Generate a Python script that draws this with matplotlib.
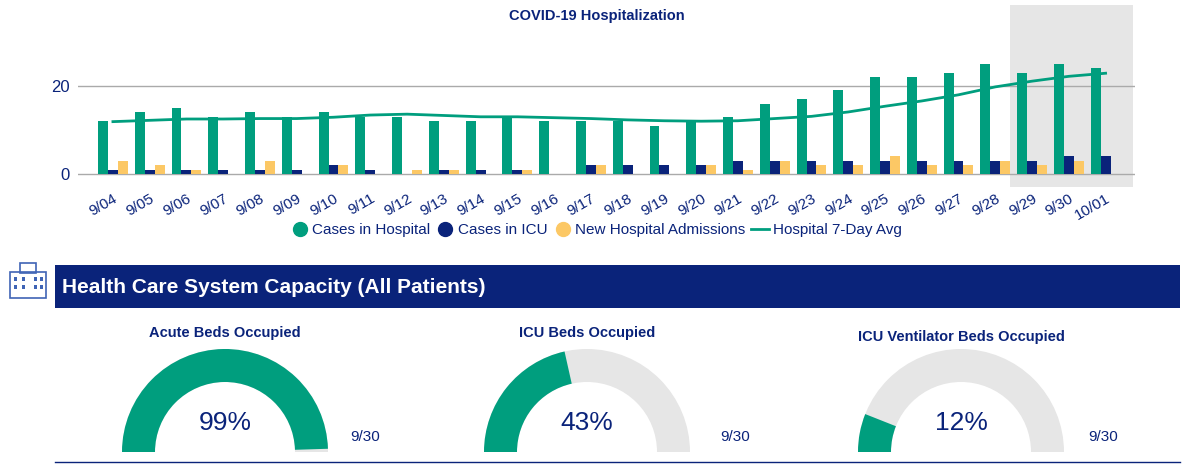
import matplotlib
matplotlib.use("Agg")
import matplotlib.pyplot as plt
from matplotlib.patches import Wedge, Rectangle
from matplotlib.lines import Line2D
import numpy as np

plt.rcParams['font.family'] = ['Liberation Sans', 'DejaVu Sans']

dates = ["9/04","9/05","9/06","9/07","9/08","9/09","9/10","9/11","9/12","9/13","9/14","9/15","9/16","9/17",
         "9/18","9/19","9/20","9/21","9/22","9/23","9/24","9/25","9/26","9/27","9/28","9/29","9/30","10/01"]
hospital = [12,14,15,13,14,13,14,13,13,12,12,13,12,12,12,11,12,13,16,17,19,22,22,23,25,23,25,24]
icu = [1,1,1,1,1,1,2,1,0,1,1,1,0,2,2,2,2,3,3,3,3,3,3,3,3,3,4,4]
admissions = [3,2,1,0,3,0,2,0,1,1,0,1,0,2,0,0,2,1,3,2,2,4,2,2,3,2,3,0]
avg7 = [11.9,12.2,12.5,12.5,12.6,12.6,12.9,13.4,13.6,13.3,13.0,13.0,12.8,12.6,12.3,12.1,12.0,12.1,12.6,13.1,
        14.1,15.4,16.6,18.0,19.8,21.1,22.2,22.9]
gauge_titles = ["Acute Beds Occupied", "ICU Beds Occupied", "ICU Ventilator Beds Occupied"]
gauge_pct = [99, 43, 12]
gauge_date = "9/30"

GREEN = "#009e7e"; NAVY = "#0a237a"; YEL = "#fcc865"; GREY = "#e6e6e6"

W, H = 1198, 465
fig = plt.figure(figsize=(W/100, H/100), dpi=100)
def fx(x): return x/W
def fy(y): return 1 - y/H

ax = fig.add_axes([fx(78), fy(187), fx(1135-78), fy(5)-fy(187)])
n = len(dates)
x = np.arange(n)
ymin = -(187-174)*20/88.0
ymax = (174-5)*20/88.0
ax.set_ylim(ymin, ymax)
ax.set_xlim(-0.95, n - 1 + 0.8)
ax.axvspan(24.4, n - 1 + 0.75, color=GREY, zorder=0, lw=0)
bw = 0.27
ax.bar(x - bw, hospital, bw, color=GREEN, zorder=3)
ax.bar(x, icu, bw, color=NAVY, zorder=3)
ax.bar(x + bw, admissions, bw, color=YEL, zorder=3)
ax.plot(x, avg7, color=GREEN, lw=2, zorder=4)
ax.axhline(0, color="#aaaaaa", lw=1, zorder=2)
ax.axhline(20, color="#aaaaaa", lw=1, zorder=1)
ax.set_yticks([0, 20])
ax.tick_params(axis="y", length=0, colors=NAVY, labelsize=12, pad=6)
ax.set_xticks(x)
ax.set_xticklabels(dates, rotation=30, ha="right", rotation_mode="anchor", color=NAVY, fontsize=11)
ax.tick_params(axis="x", length=0, pad=3)
for s in ax.spines.values(): s.set_visible(False)
ax.patch.set_alpha(0)

handles = [Line2D([], [], marker="o", ls="", color=GREEN, ms=10),
           Line2D([], [], marker="o", ls="", color=NAVY, ms=10),
           Line2D([], [], marker="o", ls="", color=YEL, ms=10),
           Line2D([], [], color=GREEN, lw=2)]
labels = ["Cases in Hospital", "Cases in ICU", "New Hospital Admissions", "Hospital 7-Day Avg"]
fig.legend(handles, labels, loc="center", bbox_to_anchor=(fx(596), fy(230)), ncol=4, frameon=False,
           fontsize=11, handlelength=1.2, columnspacing=0.4, handletextpad=0.2, labelcolor=NAVY)

ov = fig.add_axes([0, 0, 1, 1])
ov.set_xlim(0, W); ov.set_ylim(H, 0); ov.axis("off")
ov.text(597, 16, "COVID-19 Hospitalization", color=NAVY, fontsize=10.5, fontweight="bold",
        ha="center", va="center")
ov.add_patch(Rectangle((55, 265), 1125, 43, color=NAVY, lw=0))
ov.text(62, 287, "Health Care System Capacity (All Patients)", color="white", fontsize=15,
        fontweight="bold", va="center", ha="left")
ov.add_patch(Rectangle((10, 272), 36, 26, fill=False, ec="#3f64b5", lw=1.2))
ov.add_patch(Rectangle((20, 263), 16, 10, fill=False, ec="#3f64b5", lw=1.2))
for ix in [14, 22, 34, 40]:
    for iy in [277, 285]:
        ov.add_patch(Rectangle((ix, iy), 3, 4, color="#3f64b5", lw=0))
ov.plot([55, 1180], [462, 462], color=NAVY, lw=1)

centers = [225, 587, 961]
dxs = [365, 735, 1103]
tys = [333, 333, 337]
R, r = 103, 70
for cx, t, p, dx, ty in zip(centers, gauge_titles, gauge_pct, dxs, tys):
    cy = 452
    ov.text(cx, ty, t, color=NAVY, fontsize=10.5, fontweight="bold", ha="center", va="center")
    ov.add_patch(Wedge((cx, cy), R, 180, 360, width=R - r, color=GREY, lw=0))
    a = 180 * p / 100.0
    ov.add_patch(Wedge((cx, cy), R, 180, 180 + a, width=R - r, color=GREEN, lw=0))
    ov.text(cx, 423, f"{p}%", color=NAVY, fontsize=19, ha="center", va="center")
    ov.text(dx, 437, gauge_date, color=NAVY, fontsize=11, ha="center", va="center")

fig.savefig("out.png", dpi=100)
